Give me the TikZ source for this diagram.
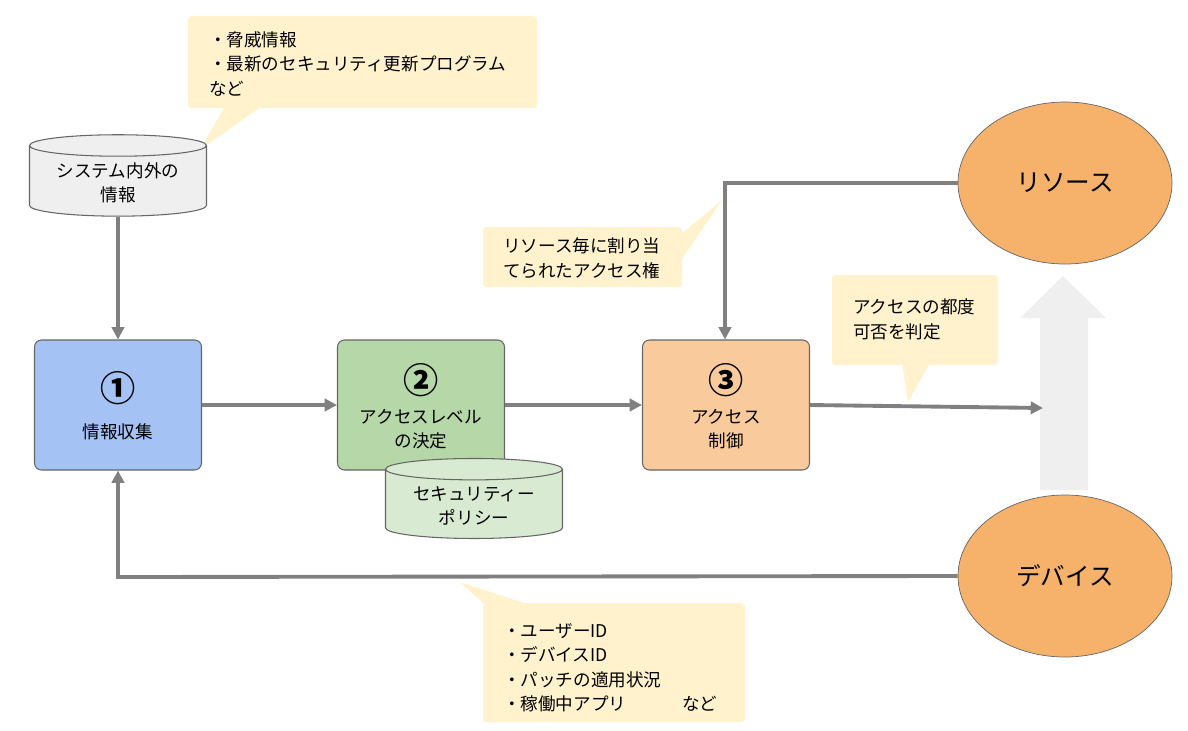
\documentclass[tikz,border=0pt]{standalone}
\usepackage{fontspec}
\setmainfont{Noto Sans CJK JP}
\usetikzlibrary{shapes.geometric,arrows.meta}
\definecolor{note}{HTML}{FFF2CC}
\definecolor{ln}{HTML}{808080}
\definecolor{b1}{HTML}{A4C2F4}
\definecolor{b2}{HTML}{B6D7A8}
\definecolor{b3}{HTML}{F9CB9C}
\definecolor{cy1}{HTML}{EFEFEF}
\definecolor{cy2}{HTML}{D9EAD3}
\definecolor{ell}{HTML}{F6B26B}
\begin{document}
\begin{tikzpicture}[x=0.02cm,y=-0.02cm,
  txt/.style={font=\fontsize{10}{14}\selectfont},
  box/.style={draw=ln!80!black,rounded corners=4pt,minimum width=167*0.02cm,minimum height=130*0.02cm,line width=0.6pt,align=center,inner sep=0pt},
  cyl/.style={cylinder,shape border rotate=90,aspect=0.16,draw=ln!80!black,line width=0.6pt,minimum width=177*0.02cm,minimum height=80*0.02cm,align=center,txt},
  con/.style={draw=ln,line width=2.2pt,-{Triangle[length=7pt,width=7pt]}},
  num/.style={font=\fontsize{20}{22}\selectfont\bfseries},
  el/.style={ellipse,draw=ln!80!black,fill=ell,minimum width=214*0.02cm,minimum height=162*0.02cm,font=\fontsize{14}{16}\selectfont}]
\useasboundingbox (0,0) rectangle (1188,731);
% callouts
\fill[note,rounded corners=2pt] (188,16) rectangle (537,108);
\fill[note] (225,106) -- (200,150) -- (262,106) -- cycle;
\node[txt,anchor=north west,align=left] (n1) at (203,25) {・脅威情報\\・最新のセキュリティ更新プログラム\\など};
\fill[note,rounded corners=2pt] (483,227) rectangle (682,287);
\fill[note] (680,235) -- (722,200) -- (680,262) -- cycle;
\node[txt,anchor=north west,align=left] (n2) at (497,232) {リソース毎に割り当\\てられたアクセス権};
\fill[note,rounded corners=2pt] (832,275) rectangle (998,365);
\fill[note] (902,363) -- (908,402) -- (930,363) -- cycle;
\node[txt,anchor=north west,align=left] (n3) at (847,293) {アクセスの都度\\可否を判定};
\fill[note,rounded corners=2pt] (483,603) rectangle (745,722);
\fill[note] (485,605) -- (460,582) -- (530,605) -- cycle;
\node[txt,anchor=north west,align=left] (n4) at (497,617) {・ユーザーID\\・デバイスID\\・パッチの適用状況\\・稼働中アプリ\hspace{3.2em}など};
% big arrow
\fill[cy1] (1040,490) -- (1040,318) -- (1020,318) -- (1063,276) -- (1106,318) -- (1088,318) -- (1088,490) -- cycle;
% nodes
\node[cyl,fill=cy1] (c1) at (118,183) {システム内外の\\情報};
\node[box,fill=b1] (a) at (118,405) {};
\node[num] (a1) at (118,388) {①};
\node[txt] (a2) at (118,432) {情報収集};
\node[box,fill=b2] (b) at (421,405) {};
\node[cyl,fill=cy2] (c2) at (474,506) {セキュリティー\\ポリシー};
\node[num] (b1) at (421,380) {②};
\node[txt,align=center] (b2) at (421,429) {アクセスレベル\\の決定};
\node[box,fill=b3] (c) at (726,405) {};
\node[num] (c1n) at (726,380) {③};
\node[txt,align=center] (c2n) at (726,429) {アクセス\\制御};
\node[el] (r) at (1065,183) {リソース};
\node[el] (d) at (1065,576) {デバイス};
\coordinate (t) at (1043,408);
\coordinate (k1) at (725,183);
\coordinate (k2) at (118,577);
% connectors
\draw[con] (c1.bottom) -- (a.north);
\draw[con] (a.east |- 0,405) -- (b.west |- 0,405);
\draw[con] (b.east |- 0,405) -- (c.west |- 0,405);
\draw[con] (c.east |- 0,405) -- (t);
\draw[con] (r.west) -- (k1) -- (k1 |- c.north);
\draw[con] (d.west) -- (k2) -- (a.south);
\end{tikzpicture}
\end{document}
